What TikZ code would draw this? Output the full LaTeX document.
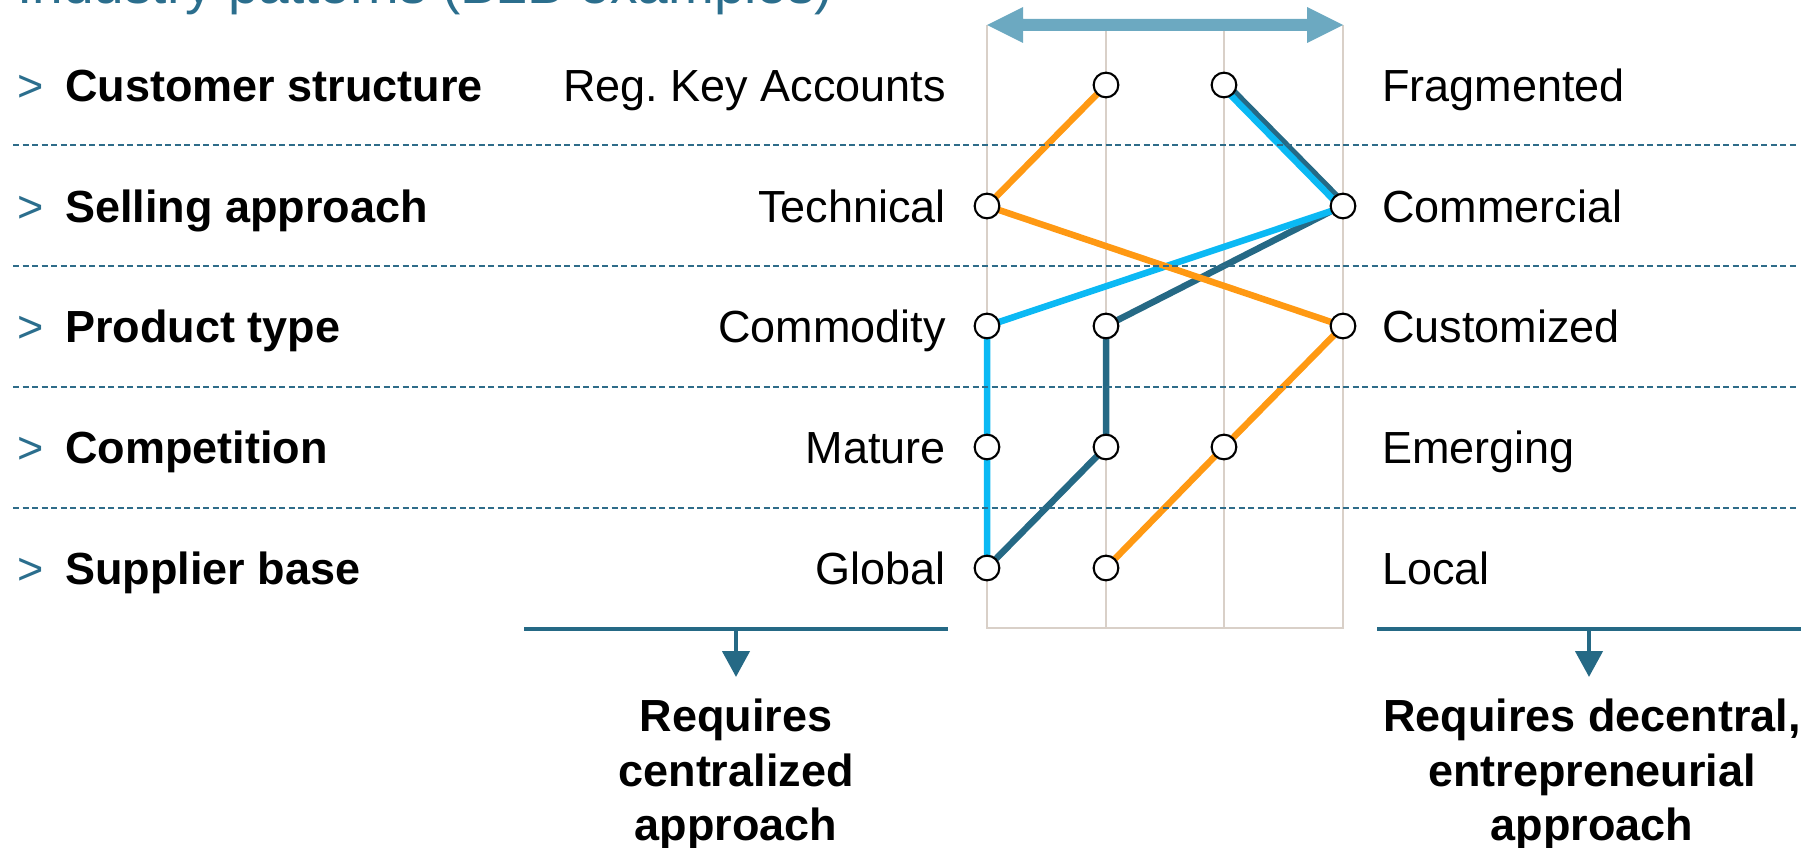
\documentclass[tikz,border=0pt]{standalone}
\usepackage{fontspec}
\setmainfont{Liberation Sans}
\usetikzlibrary{arrows.meta}
\pgfdeclarelayer{bg}
\pgfdeclarelayer{mid}
\pgfsetlayers{bg,mid,main}
\definecolor{titlec}{HTML}{2B6E8D}
\definecolor{sepc}{HTML}{2E6C89}
\definecolor{gridc}{HTML}{D9D0C8}
\definecolor{arrc}{HTML}{6CA9C1}
\definecolor{orangec}{HTML}{FF9913}
\definecolor{bluec}{HTML}{0BB9F4}
\definecolor{darkc}{HTML}{256985}
\frenchspacing
\begin{document}
\begin{tikzpicture}[x=1pt,y=-1pt,
  knob/.style={circle, draw=black, line width=2.1pt, fill=white, minimum size=24.7pt, inner sep=0pt},
  lbl/.style={inner sep=0pt, font=\fontsize{45}{53}\selectfont},
  hdr/.style={inner sep=0pt, font=\bfseries\fontsize{45}{53}\selectfont},
  mark gt/.style={inner sep=0pt, text=titlec, font=\fontsize{45}{53}\selectfont},
  concl/.style={inner sep=0pt, align=center, font=\bfseries\fontsize{45}{54.5}\selectfont},
  gridline/.style={draw=gridc, line width=2pt},
  sepline/.style={draw=sepc, line width=1.8pt, dash pattern=on 6pt off 3.5pt},
  link/.style={line width=6.5pt, line join=round},
  bracket/.style={draw=darkc, line width=4.5pt},
  downarrow/.style={draw=darkc, line width=4.5pt, -{Triangle[length=26pt,width=27pt]}}
]
\useasboundingbox (0,0) rectangle (1820,848);

% title (cut at the top, as in the reference)
\node[anchor=base west, inner sep=0pt, text=titlec, font=\fontsize{55}{60}\selectfont] (title) at (17,4) {Industry patterns (B2B examples)};

% dashed separators
\foreach \yy in {145,266,387,508}
  \draw[sepline] (13,\yy) -- (1798,\yy);

% grid
\begin{pgfonlayer}{bg}
\draw[gridline] (987,25) |- (1343,628) -- (1343,25);
\draw[gridline] (1106,25) -- (1106,628);
\draw[gridline] (1224,25) -- (1224,628);
\end{pgfonlayer}

% top double arrow
\coordinate (tl) at (987,25);
\coordinate (tr) at (1343,25);
\fill[arrc] (tl) -- (1023,7) -- (1023,19) -- (1307,19) -- (1307,7) -- (tr)
  -- (1307,43) -- (1307,31) -- (1023,31) -- (1023,43) -- cycle;

% knobs
\node[knob] (a2) at (1106,85) {};
\node[knob] (a3) at (1224,85) {};
\node[knob] (b1) at (987,206) {};
\node[knob] (b4) at (1343,206) {};
\node[knob] (c1) at (987,326) {};
\node[knob] (c2) at (1106,326) {};
\node[knob] (c4) at (1343,326) {};
\node[knob] (d1) at (987,447) {};
\node[knob] (d2) at (1106,447) {};
\node[knob] (d3) at (1224,447) {};
\node[knob] (e1) at (987,568) {};
\node[knob] (e2) at (1106,568) {};

% profile lines
\begin{pgfonlayer}{mid}
\draw[link, darkc] ([shift={(1.7,-1.7)}]a3.center) -- ([shift={(1.7,-1.7)}]b4.center) -- (c2.center) -- (d2.center) -- (e1.center);
\draw[link, bluec] ([shift={(-1.7,1.7)}]a3.center) -- ([shift={(-1.7,1.7)}]b4.center) -- (c1.center) -- (d1.center) -- (e1.center);
\draw[link, orangec] (a2.center) -- (b1.center) -- (c4.center) -- (d3.center) -- (e2.center);
\end{pgfonlayer}

% row labels
\foreach \nm/\yy/\txt/\lt/\rt in {
  r1/101.5/Customer structure/Reg. Key Accounts/Fragmented,
  r2/222.5/Selling approach/Technical/Commercial,
  r3/342.5/Product type/Commodity/Customized,
  r4/463.5/Competition/Mature/Emerging,
  r5/584.5/Supplier base/Global/Local}{
  \node[mark gt, anchor=base west] (\nm g) at (17,\yy) {>};
  \node[hdr, anchor=base west] (\nm h) at (65,\yy) {\txt};
  \node[lbl, anchor=base east] (\nm l) at (946,\yy) {\lt};
  \node[lbl, anchor=base west] (\nm r) at (1382,\yy) {\rt};
}

% conclusions
\coordinate (lb1) at (524,629);
\coordinate (lb2) at (948,629);
\coordinate (lbm) at (736,629);
\coordinate (rb1) at (1377,629);
\coordinate (rb2) at (1801,629);
\coordinate (rbm) at (1589,629);
\draw[bracket] (lb1) -- (lb2);
\draw[bracket] (rb1) -- (rb2);
\node[concl, anchor=north] (lt) at (736,699) {Requires\\centralized\\approach};
\node[concl, anchor=north] (rt) at (1592,699) {Requires decentral,\\entrepreneurial\\approach};
\draw[downarrow] (lbm) -- (lbm |- 677,677);
\draw[downarrow] (rbm) -- (rbm |- 677,677);
\end{tikzpicture}
\end{document}
